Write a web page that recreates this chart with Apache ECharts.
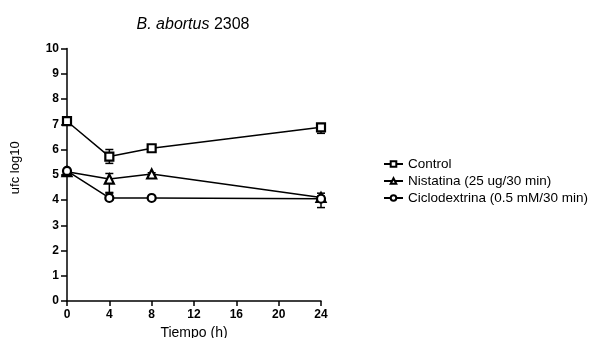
<!DOCTYPE html>
<html>
<head>
<meta charset="utf-8">
<script src="https://cdn.jsdelivr.net/npm/echarts@6/dist/echarts.min.js"></script>
<style>
  html, body { margin: 0; padding: 0; background: #fff; }
  #chart { width: 592px; height: 338px; }
</style>
</head>
<body>
<div id="chart"></div>
<script>
// horas
var tiempos = [0, 4, 8, 24];
var xTicks = [0, 4, 8, 12, 16, 20, 24];

// ufc log10 (media)
var control = [7.12, 5.72, 6.05, 6.88];
var nistatina = [5.12, 4.83, 5.03, 4.1];
var ciclodextrina = [5.15, 4.08, 4.08, 4.05];

// barras de error (inferior / superior)
var controlLow = [7.05, 5.45, 6.0, 6.64];
var controlHigh = [7.18, 6.0, 6.1, 7.0];
var nistatinaLow = [5.05, 4.3, 4.98, 3.7];
var nistatinaHigh = [5.2, 5.05, 5.08, 4.27];
var cicloLow = [5.1, 4.0, 4.03, 3.95];
var cicloHigh = [5.2, 4.27, 4.12, 4.15];

var font = 'Liberation Sans, Arial, sans-serif';

function pares(vals) {
  return tiempos.map(function (t, i) { return [t, vals[i]]; });
}

function errorSeries(low, high) {
  return {
    type: 'custom',
    silent: true,
    z: 1,
    data: tiempos.map(function (t, i) { return [t, low[i], high[i]]; }),
    renderItem: function (params, api) {
      var a = api.coord([api.value(0), api.value(1)]);
      var b = api.coord([api.value(0), api.value(2)]);
      var w = 4;
      var st = { stroke: '#000', lineWidth: 1.5 };
      return {
        type: 'group',
        children: [
          { type: 'line', shape: { x1: a[0], y1: a[1], x2: b[0], y2: b[1] }, style: st },
          { type: 'line', shape: { x1: a[0] - w, y1: a[1], x2: a[0] + w, y2: a[1] }, style: st },
          { type: 'line', shape: { x1: b[0] - w, y1: b[1], x2: b[0] + w, y2: b[1] }, style: st }
        ]
      };
    }
  };
}

function lineSeries(name, vals, symbol, size) {
  return {
    name: name,
    type: 'line',
    z: 3,
    data: pares(vals),
    symbol: symbol,
    symbolSize: size,
    showAllSymbol: true,
    lineStyle: { color: '#000', width: 1.5 },
    itemStyle: { color: '#fff', borderColor: '#000', borderWidth: 2.2 }
  };
}

var myChart = echarts.init(document.getElementById('chart'));
myChart.setOption({
  animation: false,
  title: {
    text: '{i|B. abortus} 2308',
    left: 188,
    top: 12,
    textAlign: 'center',
    textStyle: {
      fontFamily: font,
      fontSize: 16,
      fontWeight: 'normal',
      color: '#000',
      rich: {
        i: { fontFamily: font, fontSize: 16, fontStyle: 'italic', color: '#000' }
      }
    }
  },
  legend: {
    orient: 'vertical',
    left: 378,
    top: 152,
    itemWidth: 19,
    itemHeight: 7,
    itemGap: 3,
    textStyle: { fontFamily: font, fontSize: 13.5, color: '#000' },
    data: ['Control', 'Nistatina (25 ug/30 min)', 'Ciclodextrina (0.5 mM/30 min)']
  },
  grid: {
    left: 67,
    right: 271,
    top: 48.5,
    bottom: 37,
    outerBoundsMode: 'none'
  },
  xAxis: {
    type: 'value',
    min: 0,
    max: 24,
    interval: 4,
    name: 'Tiempo (h)',
    nameLocation: 'middle',
    nameGap: 25,
    nameTextStyle: { fontFamily: font, fontSize: 14, color: '#000' },
    splitLine: { show: false },
    axisLine: { lineStyle: { color: '#000', width: 1.5 } },
    axisTick: { length: 5, lineStyle: { color: '#000', width: 1.5 } },
    axisLabel: {
      margin: 8,
      fontFamily: font,
      fontSize: 12,
      fontWeight: 'bold',
      color: '#000',
      customValues: xTicks
    }
  },
  yAxis: {
    type: 'value',
    min: 0,
    max: 10,
    interval: 1,
    name: 'ufc log10',
    nameLocation: 'middle',
    nameGap: 45,
    nameTextStyle: { fontFamily: font, fontSize: 13, color: '#000', padding: [0, 0, 0, 14] },
    splitLine: { show: false },
    axisLine: { show: true, lineStyle: { color: '#000', width: 1.5 } },
    axisTick: { show: true, length: 6, lineStyle: { color: '#000', width: 1.5 } },
    axisLabel: {
      margin: 8,
      fontFamily: font,
      fontSize: 12,
      fontWeight: 'bold',
      color: '#000'
    }
  },
  series: [
    errorSeries(controlLow, controlHigh),
    errorSeries(nistatinaLow, nistatinaHigh),
    errorSeries(cicloLow, cicloHigh),
    lineSeries('Control', control, 'rect', 8),
    lineSeries('Nistatina (25 ug/30 min)', nistatina, 'triangle', 9),
    lineSeries('Ciclodextrina (0.5 mM/30 min)', ciclodextrina, 'circle', 8)
  ]
});
</script>
</body>
</html>
